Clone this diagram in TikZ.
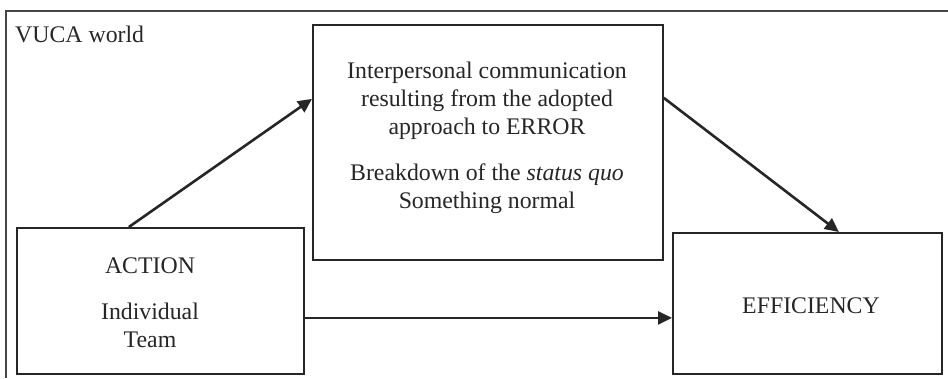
\documentclass[tikz,border=0pt]{standalone}
\usepackage{fontspec}
\setmainfont{Liberation Serif}
\usetikzlibrary{arrows.meta}
\definecolor{ink}{HTML}{262626}
\begin{document}
\begin{tikzpicture}[x=1pt,y=-1pt,
  box/.style={draw=ink,line width=1.8pt,inner sep=0pt,anchor=north west},
  txt/.style={inner sep=0pt,anchor=base,text=ink,font=\fontsize{23.8}{28}\selectfont},
  link/.style={draw=ink,line width=2.6pt,-{Triangle[length=14pt,width=13pt]}}]
\useasboundingbox (0,0) rectangle (948,378);
% surrounding frame, open to the right and below
\draw[ink!85,line width=1.6pt] (6,378) -- (6,11) -- (948,11);
\node[txt,anchor=base west] (vuca) at (15,42) {VUCA world};
% boxes
\node[box,minimum width=287pt,minimum height=146pt] (action) at (16,227) {};
\node[box,minimum width=350pt,minimum height=235pt] (mid) at (312,24) {};
\node[box,minimum width=269pt,minimum height=141pt] (eff) at (672,232) {};
% texts
\node[txt] (t1) at (487,78) {Interpersonal communication};
\node[txt] (t2) at (487,106) {resulting from the adopted};
\node[txt] (t3) at (487,134) {approach to ERROR};
\node[txt] (t4) at (487,180) {Breakdown of the \textit{status quo}};
\node[txt] (t5) at (487,208) {Something normal};
\node[txt] (a1) at (150,273) {ACTION};
\node[txt] (a2) at (150,319) {Individual};
\node[txt] (a3) at (150,347) {Team};
\node[txt] (e1) at (811,313) {EFFICIENCY};
% connectors (shifts are in page units: positive yshift points up)
\draw[link] ([xshift=-31.5pt]action.north) -- ([yshift=43.5pt]mid.west);
\draw[link] ([yshift=44.5pt]mid.east) -- ([xshift=31.5pt]eff.north);
\draw[link] ([yshift=-17pt]action.east) -- ([yshift=-14.5pt]eff.west);
\end{tikzpicture}
\end{document}
